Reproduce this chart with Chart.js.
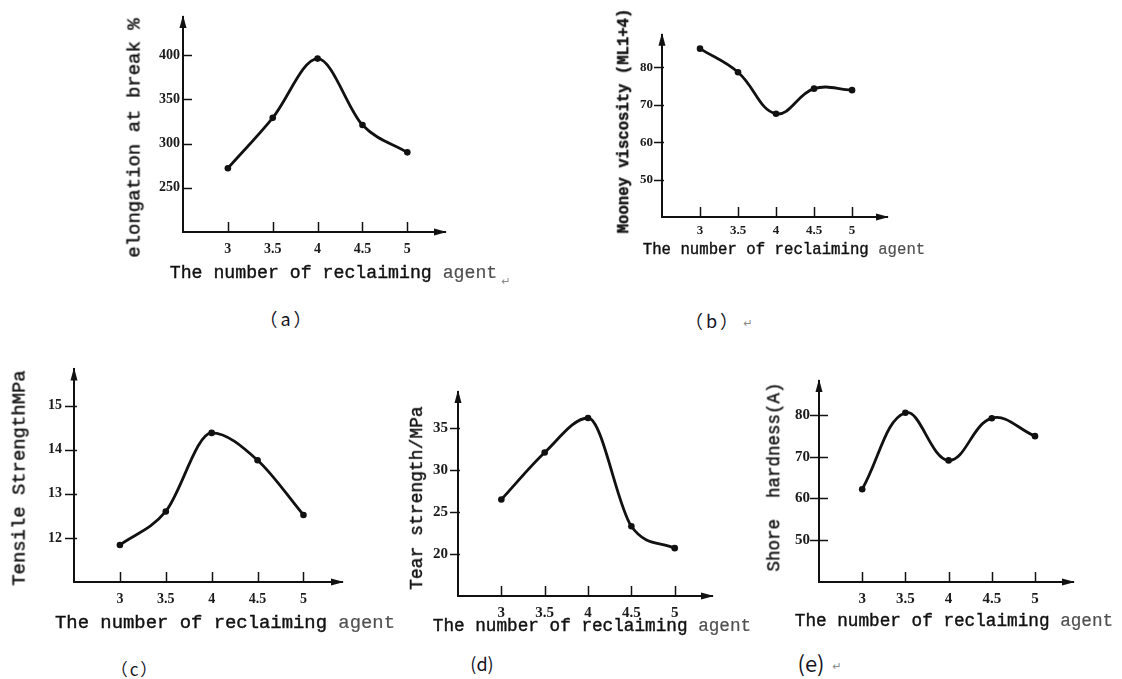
<!DOCTYPE html>
<html><head><meta charset="utf-8">
<script src="https://cdn.jsdelivr.net/npm/chart.js@4.4.1/dist/chart.umd.min.js"></script>
<style>
html,body{margin:0;padding:0;background:#fff;}
body{width:1122px;height:679px;position:relative;overflow:hidden;}
canvas{position:absolute;}
.t{position:absolute;white-space:pre;font-family:"Liberation Mono",monospace;color:#111;line-height:1;-webkit-text-stroke:0.4px #111;}
.yt{transform:translate(-50%,-50%) rotate(-90deg);}
.xt{transform:translate(-50%,-50%);}
.cap{position:absolute;font-family:"Noto Sans CJK SC","Noto Sans",sans-serif;color:#15151f;transform:translate(-50%,-50%);white-space:nowrap;line-height:1;}
.pm{position:absolute;color:#8a8a8a;font-family:"DejaVu Sans",sans-serif;font-size:11px;line-height:1;transform:translate(-50%,-50%);}
.ag{color:#505050;-webkit-text-stroke:0.2px #505050;}
</style></head><body>
<script>
// ---- data ----
const xValues = [3, 3.5, 4, 4.5, 5];
const xTickLabels = ['3', '3.5', '4', '4.5', '5'];
const elongation = [272, 329, 396, 321, 290];
const mooney = [85.0, 78.7, 67.6, 74.3, 73.9];
const tensile = [11.84, 12.6, 14.38, 13.76, 12.52];
const tear = [26.5, 32.1, 36.2, 23.3, 20.7];
const shore = [62.2, 80.5, 69.1, 79.2, 74.9];
const elongationTicks = [250, 300, 350, 400];
const mooneyTicks = [50, 60, 70, 80];
const tensileTicks = [12, 13, 14, 15];
const tearTicks = [20, 25, 30, 35];
const shoreTicks = [50, 60, 70, 80];
const xTitle = 'The number of reclaiming ';
const xTitleEnd = 'agent';
const yTitles = ['elongation at break %', 'Mooney viscosity (ML1+4)', 'Tensile StrengthMPa', 'Tear strength/MPa', 'Shore  hardness(A)'];
const captions = ['（a）', '（b）', '（c）', '(d)', '(e)'];

// ---- layout / styles ----
const panels = [
  {values: elongation, yTicks: elongationTicks, l:183, t:17, r:445, b:232, xmax:5.42, ymin:200, ymax:443,
   mode:'monotone', tension:0.4, yIn:9, yOut:0, yPad:3, xPad:9, yFs:14, xFs:14,
   yt:{x:135, y:137.5, fs:19}, xt:{x:333.5, y:273, fs:18.2}, cap:{x:287, y:318, fs:18, ls:3}, pm:[{x:506, y:281}]},
  {values: mooney, yTicks: mooneyTicks, l:662, t:30, r:887, b:216.5, xmax:5.46, ymin:40, ymax:88.7,
   mode:'default', tension:0.4, yIn:2, yOut:8, yPad:9, xPad:6, yFs:13, xFs:13,
   yt:{x:625, y:120.5, fs:15.6, bold:true}, xt:{x:784, y:251, fs:15.7}, cap:{x:713, y:320, fs:18, ls:3}, pm:[{x:748, y:323}]},
  {values: tensile, yTicks: tensileTicks, l:74, t:361, r:342, b:581.5, xmax:5.42, ymin:11, ymax:15.82,
   mode:'monotone', tension:0.4, yIn:3, yOut:9, yPad:12, xPad:9, yFs:14, xFs:14,
   yt:{x:20, y:477.5, fs:18.9}, xt:{x:225, y:623, fs:18.9}, cap:{x:135, y:668, fs:17, ls:2}, pm:[]},
  {values: tear, yTicks: tearTicks, l:458, t:385, r:712, b:596, xmax:5.43, ymin:15, ymax:39.3,
   mode:'monotone', tension:0.4, yIn:2, yOut:8, yPad:10, xPad:8, yFs:15, xFs:15,
   yt:{x:416.7, y:498, fs:18}, xt:{x:592, y:626.7, fs:17.7}, cap:{x:482, y:663, fs:18, ls:0}, pm:[]},
  {values: shore, yTicks: shoreTicks, l:819, t:375, r:1073, b:581.5, xmax:5.44, ymin:40, ymax:88.1,
   mode:'default', tension:0.4, yIn:9, yOut:9, yPad:9, xPad:8, yFs:15, xFs:15,
   yt:{x:775, y:477, fs:17.5}, xt:{x:954, y:621.7, fs:17.7}, cap:{x:811, y:662, fs:22, ls:0}, pm:[{x:837, y:666}]}
];

const decor = {
  id: 'decor',
  afterDraw(chart, args, o) {
    const {ctx, chartArea: a, scales: {x, y}} = chart;
    ctx.save();
    ctx.strokeStyle = '#111'; ctx.fillStyle = '#111'; ctx.lineWidth = 1.5;
    y.ticks.forEach(t => {
      const py = Math.round(y.getPixelForValue(t.value)) + 0.5;
      ctx.beginPath(); ctx.moveTo(a.left - o.yOut, py); ctx.lineTo(a.left + o.yIn, py); ctx.stroke();
    });
    x.ticks.forEach(t => {
      const px = Math.round(x.getPixelForValue(t.value)) + 0.5;
      ctx.beginPath(); ctx.moveTo(px, a.bottom); ctx.lineTo(px, a.bottom - 10); ctx.stroke();
    });
    ctx.beginPath(); ctx.moveTo(a.left, a.top - 2); ctx.lineTo(a.left - 3.5, a.top + 11); ctx.lineTo(a.left + 3.5, a.top + 11); ctx.closePath(); ctx.fill();
    ctx.beginPath(); ctx.moveTo(a.right + 2, a.bottom); ctx.lineTo(a.right - 11, a.bottom - 3.5); ctx.lineTo(a.right - 11, a.bottom + 3.5); ctx.closePath(); ctx.fill();
    ctx.restore();
  }
};

function addText(cls, x, y, fs, html, extra) {
  const d = document.createElement('div');
  d.className = cls;
  d.style.left = x + 'px'; d.style.top = y + 'px';
  if (fs) d.style.fontSize = fs + 'px';
  if (extra) Object.assign(d.style, extra);
  d.innerHTML = html;
  document.body.appendChild(d);
}

function makePanel(p, i) {
  const PL = 60, PT = 12, PR = 12, PB = 40;
  const w = Math.round(p.r - p.l) + PL + PR, h = Math.round(p.b - p.t) + PT + PB;
  const cv = document.createElement('canvas');
  cv.width = w; cv.height = h;
  cv.style.width = w + 'px'; cv.style.height = h + 'px';
  cv.style.left = (Math.round(p.l) - PL) + 'px';
  cv.style.top = (Math.round(p.t) - PT) + 'px';
  document.body.appendChild(cv);
  new Chart(cv, {
    type: 'line',
    data: {datasets: [{
      data: xValues.map((xv, k) => ({x: xv, y: p.values[k]})),
      borderColor: '#111', borderWidth: 2.8,
      pointRadius: 3.3, pointBackgroundColor: '#111', pointBorderWidth: 0,
      tension: p.tension, cubicInterpolationMode: p.mode, fill: false
    }]},
    options: {
      responsive: false, animation: false, events: [],
      layout: {autoPadding: false, padding: {left: 0, top: PT, right: PR, bottom: 0}},
      plugins: {legend: {display: false}, tooltip: {enabled: false}, decor: {yIn: p.yIn, yOut: p.yOut}},
      scales: {
        x: {type: 'linear', min: 2.5, max: p.xmax,
          grid: {display: true, drawOnChartArea: false, drawTicks: false},
          border: {display: true, color: '#111', width: 2},
          afterBuildTicks: s => { s.ticks = xValues.map(v => ({value: v})); },
          ticks: {padding: p.xPad, autoSkip: false, maxRotation: 0, color: '#1a1a1a',
            font: {family: 'Liberation Serif', size: p.xFs, weight: 'bold'},
            callback: (v, k) => xTickLabels[k]},
          afterFit: s => { s.height = PB; }},
        y: {type: 'linear', min: p.ymin, max: p.ymax,
          grid: {display: true, drawOnChartArea: false, drawTicks: false},
          border: {display: true, color: '#111', width: 2},
          afterBuildTicks: s => { s.ticks = p.yTicks.map(v => ({value: v})); },
          ticks: {padding: p.yPad, autoSkip: false, color: '#1a1a1a',
            font: {family: 'Liberation Serif', size: p.yFs, weight: 'bold'},
            callback: (v) => String(v)},
          afterFit: s => { s.width = PL; }}
      }
    },
    plugins: [decor]
  });
  addText('t yt', p.yt.x, p.yt.y, p.yt.fs, yTitles[i], p.yt.bold ? {fontWeight: 'bold'} : null);
  addText('t xt', p.xt.x, p.xt.y, p.xt.fs, xTitle + '<span class="ag">' + xTitleEnd + '</span>');
  addText('cap', p.cap.x, p.cap.y, p.cap.fs, captions[i], {letterSpacing: p.cap.ls + 'px'});
  p.pm.forEach(m => addText('pm', m.x, m.y, 0, '↵'));
}

panels.forEach(makePanel);
</script>
</body></html>
